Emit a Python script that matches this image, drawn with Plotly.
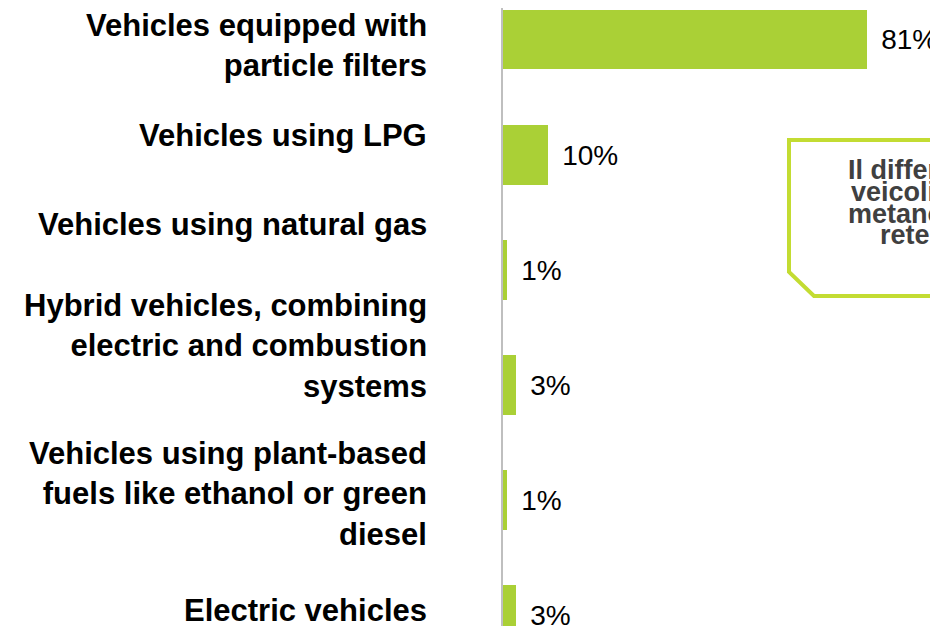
import plotly.graph_objects as go

# ---- data ----
categories = [
    "Vehicles equipped with<br>particle filters",
    "Vehicles using LPG",
    "Vehicles using natural gas",
    "Hybrid vehicles, combining<br>electric and combustion<br>systems",
    "Vehicles using plant-based<br>fuels like ethanol or green<br>diesel",
    "Electric vehicles",
]
values = [81, 10, 1, 3, 1, 3]
callout_lines = [
    "Il differenziale di prezzo",
    "veicoli a GPL e",
    "metano dipende dalla",
    "rete di distribuzione",
]

# ---- style ----
BAR_COLOR = "#AAD036"
BOX_COLOR = "#C3DC32"
FONT = "Liberation Sans, Arial, sans-serif"
label_yshift = [-6, 19, 45, 39, 6, 5]      # label offset from bar centre (px)
OFF = 8                                    # page body margin
W, H = 938 - OFF, 626 - OFF
L = 503 - OFF

idx = list(range(len(categories)))

fig = go.Figure()
fig.add_trace(go.Bar(
    x=values, y=idx, orientation="h",
    marker=dict(color=BAR_COLOR, line=dict(width=0)),
    width=0.52,
    text=[f"\u2009\u2009{v}%" for v in values],
    textposition="outside",
    textfont=dict(family=FONT, size=28, color="#000000"),
    constraintext="none",
    cliponaxis=False,
    hoverinfo="skip",
))

annotations = []
for i, (c, dy) in enumerate(zip(categories, label_yshift)):
    annotations.append(dict(
        x=0, xref="paper", xanchor="right", xshift=-74,
        y=i, yref="y", yanchor="middle", yshift=dy,
        text=f"<b>{c}</b>", showarrow=False, align="right",
        font=dict(family=FONT, size=31, color="#000000"),
    ))

def px_x(p):
    return (p - OFF - L) / (W - L)

def px_y(p):
    return 1 - (p - OFF) / H

callout_x = [846, 849, 846, 878]
callout_y = [170, 192, 214, 235]
for t, cx, cy in zip(callout_lines, callout_x, callout_y):
    annotations.append(dict(
        x=px_x(cx), xref="paper", xanchor="left",
        y=px_y(cy), yref="paper", yanchor="middle",
        text=f"<b>{t}</b>", showarrow=False, align="left",
        font=dict(family=FONT, size=27, color="#404040"),
    ))

box_pts = [(789, 140), (1010, 140), (1010, 296), (814, 296), (789, 272)]
path = "M " + " L ".join(f"{px_x(a):.5f},{px_y(b):.5f}" for a, b in box_pts) + " Z"

# y range so bar centres sit at reference pixels 39.5 + 115.1*k
px_per_cat = 115.1
y_top = (OFF - 39.5) / px_per_cat
y_bot = 5 + (OFF + H - 615) / px_per_cat
x_max = (W - L) / (364 / 81)

fig.update_layout(
    width=W, height=H,
    margin=dict(l=L, r=0, t=0, b=0, pad=0),
    paper_bgcolor="white", plot_bgcolor="white",
    showlegend=False,
    bargap=0,
    xaxis=dict(range=[0, x_max], visible=False, fixedrange=True),
    yaxis=dict(range=[y_bot, y_top], showticklabels=False, ticks="",
               showgrid=False, zeroline=False,
               showline=True, linecolor="#BFBFBF", linewidth=2),
    annotations=annotations,
    shapes=[dict(type="path", path=path, xref="paper", yref="paper",
                 line=dict(color=BOX_COLOR, width=4), fillcolor="rgba(0,0,0,0)")],
)

fig.write_html("out.html")
